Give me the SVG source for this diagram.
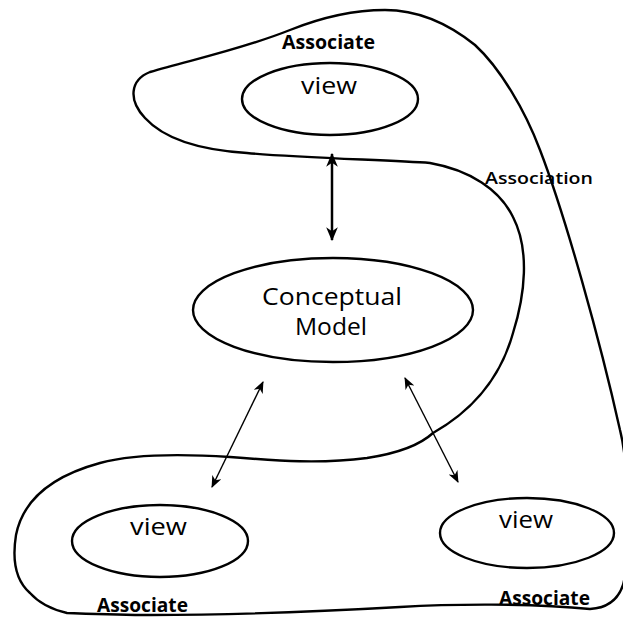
<svg xmlns="http://www.w3.org/2000/svg" width="623" height="618" viewBox="0 0 623 618">
  <style>
    .shape { fill: none; stroke: #000; stroke-width: 2.4; stroke-linecap: round; stroke-linejoin: round; }
    .label { font-family: "Open Sans", "Liberation Sans", sans-serif; fill: #000; }
    .name { font-size: 24px; font-weight: 500; }
    .tag { font-size: 19px; font-weight: 700; }
    .link { stroke: #000; fill: none; }
  </style>
  <defs>
    <marker id="head" viewBox="0 0 12 10" refX="11" refY="5" markerWidth="12" markerHeight="10" markerUnits="userSpaceOnUse" orient="auto-start-reverse">
      <path d="M0,0 L12,5 L0,10 L3.5,5 Z" fill="#000"/>
    </marker>
    <marker id="headBig" viewBox="0 0 12 10" refX="11" refY="5" markerWidth="14" markerHeight="12" markerUnits="userSpaceOnUse" orient="auto-start-reverse">
      <path d="M0,0 L12,5 L0,10 L3.5,5 Z" fill="#000"/>
    </marker>
  </defs>

  <!-- association boundary enclosing the views -->
  <g id="association">
    <path class="shape" d="M385,10
      C420,10 450,25 475,45
      C500,68 525,110 540,150
      C565,215 600,340 620,430
      C630,470 630,560 623,585
      C618,600 608,608 590,609
      C530,603 450,604 400,607
      C330,611 250,615 150,615
      C120,615 95,614 67,613
      C50,609 38,602 30,593
      C15,580 12,560 16,535
      C22,505 45,478 100,463
      C140,452 200,455 230,457
      C280,461 320,464 367,458
      C400,453 420,445 433,433
      C470,412 500,380 513,333
      C525,295 530,250 513,217
      C500,190 470,170 430,163
      C390,160 300,158 247,153
      C200,150 165,140 145,118
      C128,100 130,80 150,72
      C190,60 240,50 290,30
      C320,18 350,10 385,10 Z"/>
    <text class="label tag" x="282" y="49" textLength="93" lengthAdjust="spacingAndGlyphs">Associate</text>
    <text class="label" x="485" y="184" font-size="17" font-weight="600" textLength="108" lengthAdjust="spacingAndGlyphs">Association</text>
    <text class="label tag" x="97" y="612" textLength="91" lengthAdjust="spacingAndGlyphs">Associate</text>
    <text class="label tag" x="499" y="605" textLength="91" lengthAdjust="spacingAndGlyphs">Associate</text>
  </g>

  <!-- views and the conceptual model -->
  <g id="view-top">
    <ellipse class="shape" cx="330" cy="99" rx="88" ry="36"/>
    <text class="label name" x="301" y="94" textLength="56" lengthAdjust="spacingAndGlyphs">view</text>
  </g>
  <g id="conceptual-model">
    <ellipse class="shape" cx="333" cy="310" rx="140" ry="52"/>
    <text class="label name" x="262" y="305" textLength="140" lengthAdjust="spacingAndGlyphs">Conceptual</text>
    <text class="label name" x="295" y="335" textLength="72" lengthAdjust="spacingAndGlyphs">Model</text>
  </g>
  <g id="view-left">
    <ellipse class="shape" cx="160" cy="541" rx="88" ry="36"/>
    <text class="label name" x="130" y="535" textLength="57" lengthAdjust="spacingAndGlyphs">view</text>
  </g>
  <g id="view-right">
    <ellipse class="shape" cx="527" cy="533" rx="87" ry="35"/>
    <text class="label name" x="499" y="528" textLength="54" lengthAdjust="spacingAndGlyphs">view</text>
  </g>

  <!-- two-way links between the model and each view -->
  <g id="connectors">
    <line class="link" x1="332" y1="154" x2="332" y2="240" stroke-width="2.5" marker-start="url(#headBig)" marker-end="url(#headBig)"/>
    <line class="link" x1="263" y1="382" x2="212" y2="487" stroke-width="1.4" marker-start="url(#head)" marker-end="url(#head)"/>
    <line class="link" x1="405" y1="378" x2="458" y2="482" stroke-width="1.4" marker-start="url(#head)" marker-end="url(#head)"/>
  </g>
</svg>
